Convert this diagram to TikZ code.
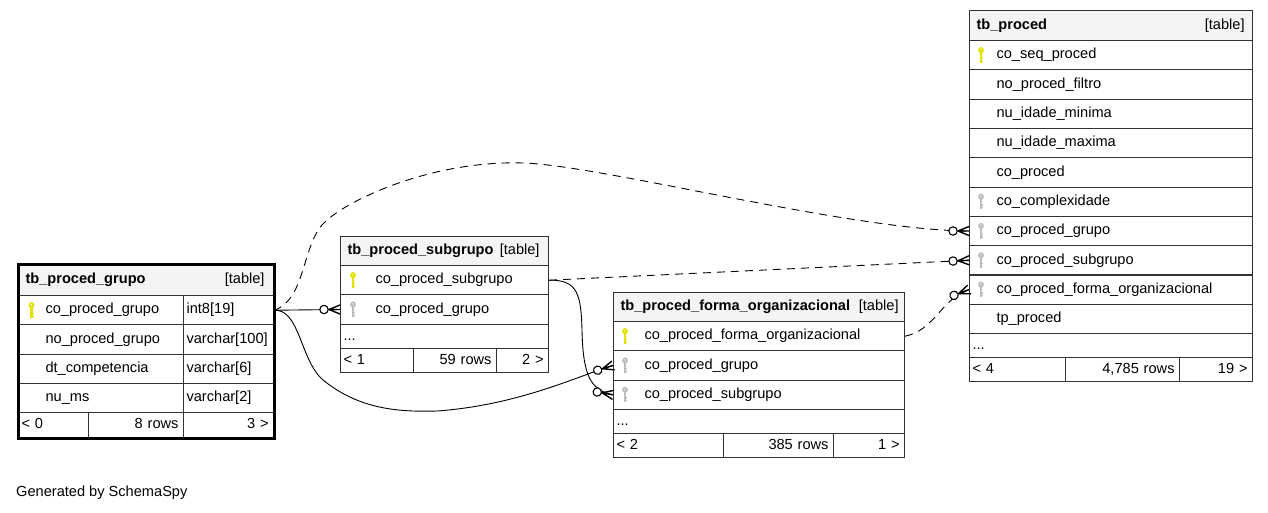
\documentclass[tikz,border=0pt]{standalone}
\usepackage{fontspec}
\setmainfont{Liberation Sans}
\definecolor{bc}{RGB}{51,51,51}
\definecolor{hdrfill}{RGB}{244,244,244}
\definecolor{keyy}{RGB}{226,226,0}
\definecolor{keyg}{RGB}{190,190,190}
\newcommand{\rowfont}{\fontsize{14.6}{17}\selectfont}
\tikzset{
  cell/.style={draw=bc, line width=1.1pt, rectangle, inner sep=0pt, anchor=north west,
    align=left, font=\rowfont, text height=10.5pt, text depth=3pt},
  cellr/.style={cell, align=right},
  hdr/.style={cell, fill=hdrfill},
  conn/.style={draw=black, line width=0.9pt},
  fkline/.style={conn, dash pattern=on 8pt off 6pt},
  pics/crowo/.style={code={
    \draw[solid, line width=1.4pt, black, line cap=round] (-11,0) -- (0,-4.5) (-11,0) -- (0,0) (-11,0) -- (0,4.5);
    \draw[solid, line width=1.1pt, black, fill=white] (-16,0) circle [radius=4.2];
  }},
  pics/keyicon/.style={code={
    \fill[#1] (0,-5) ellipse [x radius=2.9, y radius=3.1];
    \fill[white] (0,-5.6) circle [radius=0.7];
    \fill[#1] (-1.1,-3) rectangle (1.1,7.5);
    \fill[#1] (1.1,2.6) rectangle (2.4,3.9);
    \fill[#1] (1.1,5.4) rectangle (2.4,6.6);
  }}
}
\begin{document}
\begin{tikzpicture}[x=1pt,y=-1pt]
\fill[white] (0,0) rectangle (1268,512);
\useasboundingbox (0,0) rectangle (1268,512);

% ---------- tb_proced_grupo ----------
\node[hdr, text width=255pt, minimum height=31pt] (g0) at (18,264) {\hspace*{7pt}\textbf{tb\_proced\_grupo}\hfill[table]\kern9pt};
\node[cell, text width=165pt, minimum height=29.3pt] (g1n) at (18,295) {\hspace*{27pt}co\_proced\_grupo};
\node[cell, text width=90pt, minimum height=29.3pt] (g1t) at (183,295) {\hspace*{3pt}int8[19]};
\node[cell, text width=165pt, minimum height=29.3pt] (g2n) at (18,324.3) {\hspace*{27pt}no\_proced\_grupo};
\node[cell, text width=90pt, minimum height=29.3pt] (g2t) at (183,324.3) {\hspace*{3pt}varchar[100]};
\node[cell, text width=165pt, minimum height=29.3pt] (g3n) at (18,353.6) {\hspace*{27pt}dt\_competencia};
\node[cell, text width=90pt, minimum height=29.3pt] (g3t) at (183,353.6) {\hspace*{3pt}varchar[6]};
\node[cell, text width=165pt, minimum height=29.3pt] (g4n) at (18,382.9) {\hspace*{27pt}nu\_ms};
\node[cell, text width=90pt, minimum height=29.3pt] (g4t) at (183,382.9) {\hspace*{3pt}varchar[2]};
\node[cell, text width=70pt, minimum height=24.8pt] (gf1) at (18,412.2) {\hspace*{3pt}< 0};
\node[cellr, text width=95pt, minimum height=24.8pt] (gf2) at (88,412.2) {8 rows\kern5pt};
\node[cellr, text width=90pt, minimum height=24.8pt] (gf3) at (183,412.2) {3 >\kern5pt};
\draw[line width=3pt, black] (g0.north west) rectangle (gf3.south east);
\pic at ([xshift=13.5pt]g1n.west) {keyicon=keyy};

% ---------- tb_proced_subgrupo ----------
\node[hdr, text width=208pt, minimum height=29pt] (s0) at (340,236) {\hspace*{7pt}\textbf{tb\_proced\_subgrupo}\hfill[table]\kern9pt};
\node[cell, text width=208pt, minimum height=29.3pt] (sg1) at (340,265) {\hspace*{35pt}co\_proced\_subgrupo};
\node[cell, text width=208pt, minimum height=29.3pt] (sg2) at (340,294.3) {\hspace*{35pt}co\_proced\_grupo};
\node[cell, text width=208pt, minimum height=24.4pt] (sd) at (340,323.6) {\hspace*{3pt}...};
\node[cell, text width=73pt, minimum height=24pt] (sf1) at (340,348) {\hspace*{3pt}< 1};
\node[cellr, text width=83pt, minimum height=24pt] (sf2) at (413,348) {59 rows\kern5pt};
\node[cellr, text width=52pt, minimum height=24pt] (sf3) at (496,348) {2 >\kern5pt};
\pic at ([xshift=13pt]sg1.west) {keyicon=keyy};
\pic at ([xshift=13pt]sg2.west) {keyicon=keyg};

% ---------- tb_proced_forma_organizacional ----------
\node[hdr, text width=291pt, minimum height=29pt] (f0) at (613,292) {\hspace*{7pt}\textbf{tb\_proced\_forma\_organizacional}\hfill[table]\kern6pt};
\node[cell, text width=291pt, minimum height=29.3pt] (fo1) at (613,321) {\hspace*{31pt}co\_proced\_forma\_organizacional};
\node[cell, text width=291pt, minimum height=29.3pt] (fo2) at (613,350.3) {\hspace*{31pt}co\_proced\_grupo};
\node[cell, text width=291pt, minimum height=29.3pt] (fo3) at (613,379.6) {\hspace*{31pt}co\_proced\_subgrupo};
\node[cell, text width=291pt, minimum height=24.1pt] (fd) at (613,408.9) {\hspace*{3pt}...};
\node[cell, text width=110pt, minimum height=24pt] (ff1) at (613,433) {\hspace*{3pt}< 2};
\node[cellr, text width=110pt, minimum height=24pt] (ff2) at (723,433) {385 rows\kern5pt};
\node[cellr, text width=71pt, minimum height=24pt] (ff3) at (833,433) {1 >\kern5pt};
\pic at ([xshift=12pt]fo1.west) {keyicon=keyy};
\pic at ([xshift=12pt]fo2.west) {keyicon=keyg};
\pic at ([xshift=12pt]fo3.west) {keyicon=keyg};

% ---------- tb_proced ----------
\node[hdr, text width=283pt, minimum height=30pt] (p0) at (969,10) {\hspace*{7pt}\textbf{tb\_proced}\hfill[table]\kern8pt};
\node[cell, text width=283pt, minimum height=29.3pt] (p1) at (969,40) {\hspace*{27pt}co\_seq\_proced};
\node[cell, text width=283pt, minimum height=29.3pt] (p2) at (969,69.3) {\hspace*{27pt}no\_proced\_filtro};
\node[cell, text width=283pt, minimum height=29.3pt] (p3) at (969,98.6) {\hspace*{27pt}nu\_idade\_minima};
\node[cell, text width=283pt, minimum height=29.3pt] (p4) at (969,127.9) {\hspace*{27pt}nu\_idade\_maxima};
\node[cell, text width=283pt, minimum height=29.3pt] (p5) at (969,157.2) {\hspace*{27pt}co\_proced};
\node[cell, text width=283pt, minimum height=29.3pt] (p6) at (969,186.5) {\hspace*{27pt}co\_complexidade};
\node[cell, text width=283pt, minimum height=29.3pt] (p7) at (969,215.8) {\hspace*{27pt}co\_proced\_grupo};
\node[cell, text width=283pt, minimum height=29.3pt] (p8) at (969,245.1) {\hspace*{27pt}co\_proced\_subgrupo};
\node[cell, text width=283pt, minimum height=29.3pt] (p9) at (969,274.4) {\hspace*{27pt}co\_proced\_forma\_organizacional};
\node[cell, text width=283pt, minimum height=29.3pt] (p10) at (969,303.7) {\hspace*{27pt}tp\_proced};
\node[cell, text width=283pt, minimum height=24pt] (pd) at (969,333) {\hspace*{3pt}...};
\node[cell, text width=96pt, minimum height=24pt] (pf1) at (969,357) {\hspace*{3pt}< 4};
\node[cellr, text width=114pt, minimum height=24pt] (pf2) at (1065,357) {4,785 rows\kern5pt};
\node[cellr, text width=73pt, minimum height=24pt] (pf3) at (1179,357) {19 >\kern5pt};
\pic at ([xshift=12pt]p1.west) {keyicon=keyy};
\pic at ([xshift=12pt]p6.west) {keyicon=keyg};
\pic at ([xshift=12pt]p7.west) {keyicon=keyg};
\pic at ([xshift=12pt]p8.west) {keyicon=keyg};
\pic at ([xshift=12pt]p9.west) {keyicon=keyg};

% ---------- connectors ----------
\draw[conn] (g1t.east) -- (sg2.west);
\draw[fkline] (g1t.east) .. controls (305,300) and (302,248) .. (322,225)
   .. controls (342,202) and (430,160) .. (523,163)
   .. controls (600,165) and (850,230.5) .. (p7.west);
\draw[fkline] (sg1.east) -- (p8.west);
\draw[conn] (sg1.east) .. controls (578,279.5) and (581,295) .. (582,330)
   .. controls (583,375) and (590,390) .. (fo3.west);
\draw[conn] (g1t.east) .. controls (300,309) and (300,360) .. (323,380)
   .. controls (360,410) and (400,412) .. (437,411)
   .. controls (520,405) and (580,375) .. (fo2.west);
\draw[fkline] (fo1.east) .. controls (935,330) and (940,300) .. (p9.west);

\pic at (sg2.west) {crowo};
\pic at (p7.west) {crowo};
\pic[rotate=2.7] at (p8.west) {crowo};
\pic[rotate=-10] at (fo3.west) {crowo};
\pic[rotate=17] at (fo2.west) {crowo};
\pic[rotate=21] at (p9.west) {crowo};

\node[font=\rowfont, anchor=base west, inner sep=0pt] (gen) at (16,496) {Generated by SchemaSpy};
\end{tikzpicture}
\end{document}
